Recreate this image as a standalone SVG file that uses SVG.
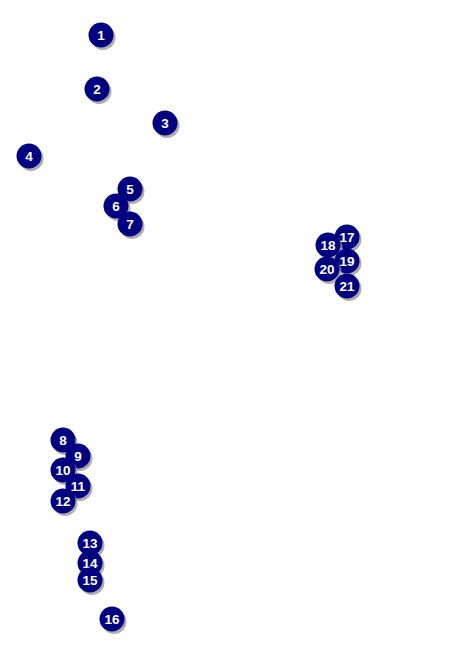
<svg xmlns="http://www.w3.org/2000/svg" width="459" height="648" viewBox="0 0 459 648">
<style>
.sh{fill:#999;opacity:0.8}
.c{fill:#000080}
.t{fill:#fff;font-family:"Liberation Sans",Arial,sans-serif;font-weight:bold;font-size:13.5px;text-anchor:middle}
</style>
<defs>
<g id="m"><circle class="sh" cx="2" cy="2.5" r="12.5"/><circle class="c" cx="0" cy="0" r="12.5"/></g>
</defs>
<rect width="459" height="648" fill="#fff"/>
<g id="n1" transform="translate(101,35)"><use href="#m"/><text class="t" y="5">1</text></g>
<g id="n2" transform="translate(97,89)"><use href="#m"/><text class="t" y="5">2</text></g>
<g id="n3" transform="translate(165,123)"><use href="#m"/><text class="t" y="5">3</text></g>
<g id="n4" transform="translate(29,156)"><use href="#m"/><text class="t" y="5">4</text></g>
<g id="n5" transform="translate(130,189)"><use href="#m"/><text class="t" y="5">5</text></g>
<g id="n6" transform="translate(116,206)"><use href="#m"/><text class="t" y="5">6</text></g>
<g id="n7" transform="translate(130,224)"><use href="#m"/><text class="t" y="5">7</text></g>
<g id="n8" transform="translate(63,440)"><use href="#m"/><text class="t" y="5">8</text></g>
<g id="n9" transform="translate(78,456)"><use href="#m"/><text class="t" y="5">9</text></g>
<g id="n10" transform="translate(63,470)"><use href="#m"/><text class="t" y="5">10</text></g>
<g id="n11" transform="translate(78,486)"><use href="#m"/><text class="t" y="5">11</text></g>
<g id="n12" transform="translate(63,501)"><use href="#m"/><text class="t" y="5">12</text></g>
<g id="n13" transform="translate(90,543)"><use href="#m"/><text class="t" y="5">13</text></g>
<g id="n14" transform="translate(90,563)"><use href="#m"/><text class="t" y="5">14</text></g>
<g id="n15" transform="translate(90,580)"><use href="#m"/><text class="t" y="5">15</text></g>
<g id="n16" transform="translate(112,619)"><use href="#m"/><text class="t" y="5">16</text></g>
<g id="n17" transform="translate(347,237)"><use href="#m"/><text class="t" y="5">17</text></g>
<g id="n18" transform="translate(328,245)"><use href="#m"/><text class="t" y="5">18</text></g>
<g id="n19" transform="translate(347,261)"><use href="#m"/><text class="t" y="5">19</text></g>
<g id="n20" transform="translate(327,269)"><use href="#m"/><text class="t" y="5">20</text></g>
<g id="n21" transform="translate(347,286)"><use href="#m"/><text class="t" y="5">21</text></g>
<g id="connectors"/>
</svg>
